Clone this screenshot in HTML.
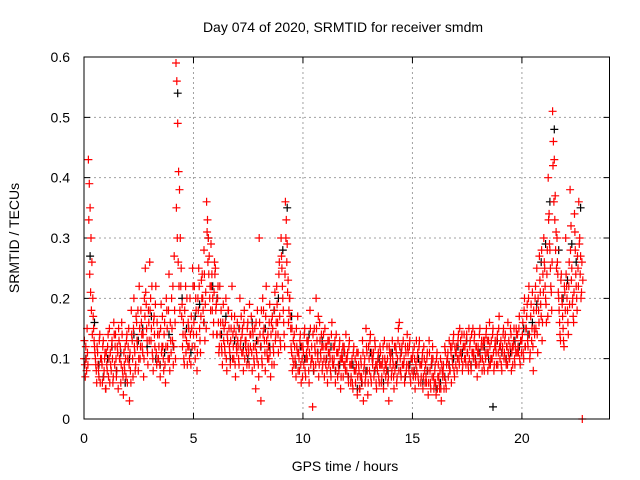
<!DOCTYPE html>
<html><head><meta charset="utf-8"><style>
body{margin:0;background:#fff}
svg{display:block;font-family:"Liberation Sans",sans-serif}
</style></head><body>
<svg id="chart" width="640" height="480">
<text x="343" y="32" text-anchor="middle" font-size="14">Day 074 of 2020, SRMTID for receiver smdm</text>
<text x="345" y="471" text-anchor="middle" font-size="14">GPS time / hours</text>
<text transform="translate(19,238) rotate(-90)" text-anchor="middle" font-size="14">SRMTID / TECUs</text>
<g id="grid"></g>
<g id="ticks"></g>
<g id="black"></g>
<g id="red"></g>
<rect x="84" y="57" width="525.5" height="362" fill="none" stroke="#000" stroke-width="1"/>
</svg>
<script>
const xTicks=[0,5,10,15,20];
const yTicks=[0,0.1,0.2,0.3,0.4,0.5,0.6];
const yTickLabels=["0","0.1","0.2","0.3","0.4","0.5","0.6"];
const times=[0,0.2,0.4,0.6,0.8,1,1.2,1.4,1.6,1.8,2,2.2,2.4,2.6,2.8,3,3.2,3.4,3.6,3.8,4,4.2,4.4,4.6,4.8,5,5.2,5.4,5.6,5.8,6,6.2,6.4,6.6,6.8,7,7.2,7.4,7.6,7.8,8,8.2,8.4,8.6,8.8,9,9.2,9.4,9.6,9.8,10,10.2,10.4,10.6,10.8,11,11.2,11.4,11.6,11.8,12,12.2,12.4,12.6,12.8,13,13.2,13.4,13.6,13.8,14,14.2,14.4,14.6,14.8,15,15.2,15.4,15.6,15.8,16,16.2,16.4,16.6,16.8,17,17.2,17.4,17.6,17.8,18,18.2,18.4,18.6,18.8,19,19.2,19.4,19.6,19.8,20,20.2,20.4,20.6,20.8,21,21.2,21.4,21.6,21.8,22,22.2,22.4,22.6];
const redVals=[
[.10,.09,.12,.08,.11],[.43,.39,.35,.30,.26],[.20,.15,.12,.10,.08],[.12,.09,.07,.14,.10],[.10,.06,.13,.08,.11],
[.05,.09,.12,.07,.15],[.11,.08,.13,.06,.16],[.09,.14,.07,.12,.05],[.13,.10,.06,.16,.08],[.04,.09,.12,.07,.14],
[.10,.15,.03,.08,.18],[.13,.07,.20,.11,.09],[.16,.12,.08,.22,.10],[.18,.14,.11,.07,.20],[.25,.19,.13,.09,.16],
[.26,.20,.15,.11,.08],[.17,.12,.22,.09,.14],[.10,.14,.07,.19,.12],[.12,.08,.16,.06,.20],[.15,.10,.24,.08,.13],
[.20,.13,.09,.27,.16],[.59,.56,.49,.41,.38],[.30,.25,.19,.14,.10],[.18,.22,.13,.09,.16],[.12,.20,.09,.15,.25],
[.14,.22,.10,.18,.08],[.20,.25,.15,.11,.23],[.24,.18,.28,.13,.21],[.36,.33,.30,.27,.22],[.29,.24,.20,.16,.26],
[.25,.19,.14,.22,.11],[.22,.16,.12,.09,.19],[.15,.11,.20,.08,.13],[.18,.12,.09,.15,.22],[.14,.10,.17,.07,.12],
[.16,.12,.09,.20,.13],[.11,.15,.08,.18,.13],[.13,.09,.16,.11,.19],[.12,.17,.08,.14,.10],[.15,.05,.11,.18,.09],
[.30,.14,.03,.10,.20],[.18,.13,.08,.22,.11],[.14,.10,.19,.07,.16],[.17,.12,.09,.21,.14],[.22,.16,.11,.26,.13],
[.30,.25,.20,.16,.12],[.36,.33,.29,.23,.18],[.20,.15,.11,.08,.13],[.14,.10,.07,.12,.17],[.11,.08,.14,.06,.10],
[.12,.09,.15,.07,.11],[.10,.13,.06,.18,.09],[.12,.02,.09,.15,.11],[.20,.13,.10,.07,.16],[.11,.14,.08,.12,.10],
[.15,.09,.12,.06,.11],[.13,.10,.07,.16,.09],[.09,.12,.06,.14,.11],[.11,.08,.13,.05,.10],[.10,.07,.12,.09,.14],
[.08,.11,.06,.13,.09],[.07,.10,.05,.12,.08],[.06,.09,.04,.11,.08],[.05,.10,.07,.13,.03],[.09,.06,.15,.11,.04],
[.12,.08,.14,.06,.10],[.10,.07,.13,.09,.05],[.08,.11,.06,.12,.09],[.07,.10,.05,.13,.09],[.09,.12,.06,.03,.11],
[.10,.07,.13,.09,.05],[.08,.12,.06,.10,.15],[.16,.10,.07,.12,.09],[.09,.06,.12,.08,.14],[.11,.08,.13,.06,.10],
[.10,.07,.12,.05,.09],[.08,.11,.06,.13,.09],[.07,.10,.05,.12,.08],[.09,.06,.11,.04,.13],[.08,.05,.10,.12,.07],
[.06,.09,.04,.11,.07],[.07,.05,.10,.03,.08],[.08,.05,.12,.06,.09],[.10,.07,.13,.08,.11],[.12,.09,.14,.07,.11],
[.11,.08,.13,.10,.15],[.13,.10,.08,.12,.14],[.12,.09,.14,.11,.08],[.10,.13,.08,.11,.15],[.11,.14,.09,.12,.07],
[.12,.09,.15,.10,.13],[.10,.13,.08,.11,.14],[.11,.08,.13,.16,.09],[.13,.10,.15,.08,.12],[.12,.09,.14,.11,.17],
[.10,.13,.08,.12,.15],[.11,.14,.09,.12,.16],[.13,.10,.15,.08,.12],[.12,.15,.09,.11,.14],[.14,.11,.17,.09,.13],
[.13,.16,.10,.20,.12],[.15,.19,.12,.22,.10],[.17,.13,.21,.08,.15],[.20,.15,.25,.11,.18],[.27,.21,.17,.13,.24],
[.30,.25,.20,.16,.28],[.40,.34,.28,.22,.18],[.51,.46,.43,.37,.31],[.30,.24,.20,.16,.13],[.24,.19,.15,.12,.21],
[.30,.22,.18,.14,.26],[.38,.32,.25,.20,.16],[.34,.28,.22,.18,.25],[.36,.30,.27,.21,.00]];
const redVals2=[
[.13,.07,.10,.15,.09],[.33,.24,.21,.18,.14],[.17,.13,.11,.09,.06],[.11,.08,.13,.06,.10],[.09,.12,.07,.10,.05],
[.11,.08,.14,.10,.06],[.09,.12,.10,.07,.14],[.12,.10,.08,.11,.15],[.10,.12,.09,.14,.07],[.11,.08,.10,.13,.06],
[.12,.09,.11,.06,.14],[.10,.15,.12,.08,.17],[.13,.18,.10,.15,.12],[.16,.12,.14,.10,.17],[.21,.15,.11,.18,.13],
[.18,.13,.22,.10,.16],[.14,.19,.11,.16,.10],[.12,.09,.15,.11,.17],[.10,.14,.09,.12,.18],[.12,.18,.10,.16,.11],
[.15,.22,.12,.18,.10],[.35,.30,.26,.22,.18],[.22,.17,.12,.16,.09],[.14,.11,.20,.12,.15],[.10,.14,.17,.12,.22],
[.16,.12,.20,.14,.11],[.18,.22,.13,.17,.20],[.20,.16,.24,.19,.15],[.31,.26,.24,.20,.18],[.22,.18,.14,.21,.24],
[.18,.14,.20,.16,.12],[.14,.18,.11,.16,.13],[.12,.16,.10,.14,.18],[.15,.11,.13,.17,.10],[.12,.15,.09,.14,.11],
[.13,.10,.15,.12,.17],[.14,.11,.16,.10,.12],[.11,.15,.12,.09,.14],[.14,.11,.15,.12,.09],[.12,.16,.10,.13,.07],
[.16,.12,.18,.09,.14],[.15,.11,.17,.13,.10],[.12,.16,.11,.14,.09],[.15,.11,.18,.13,.16],[.19,.14,.24,.17,.12],
[.27,.22,.18,.14,.24],[.30,.26,.21,.16,.20],[.17,.12,.15,.10,.09],[.12,.09,.15,.11,.08],[.10,.13,.09,.12,.07],
[.11,.14,.08,.10,.13],[.12,.08,.11,.15,.10],[.10,.14,.08,.12,.09],[.15,.11,.17,.09,.13],[.10,.12,.09,.14,.07],
[.12,.10,.08,.13,.09],[.11,.08,.14,.10,.12],[.10,.13,.08,.11,.07],[.09,.12,.10,.07,.11],[.12,.09,.11,.08,.10],
[.10,.07,.12,.09,.06],[.09,.06,.11,.08,.10],[.08,.11,.07,.09,.05],[.07,.09,.06,.11,.08],[.10,.07,.12,.08,.06],
[.10,.13,.07,.11,.09],[.11,.08,.12,.06,.09],[.10,.07,.09,.11,.06],[.09,.12,.08,.10,.07],[.08,.10,.07,.12,.09],
[.11,.08,.10,.07,.12],[.09,.11,.07,.13,.08],[.12,.08,.11,.09,.13],[.10,.07,.11,.09,.12],[.09,.12,.07,.10,.08],
[.11,.08,.10,.07,.13],[.10,.07,.12,.09,.06],[.09,.11,.07,.10,.06],[.07,.10,.08,.06,.11],[.06,.09,.07,.10,.05],
[.08,.06,.10,.05,.09],[.06,.08,.05,.09,.07],[.09,.07,.11,.05,.10],[.11,.09,.08,.12,.06],[.10,.13,.08,.12,.09],
[.12,.10,.14,.09,.11],[.11,.14,.09,.12,.10],[.10,.13,.11,.09,.15],[.12,.09,.14,.11,.10],[.13,.10,.12,.09,.11],
[.11,.14,.10,.12,.08],[.12,.09,.13,.10,.15],[.13,.11,.09,.12,.10],[.10,.14,.11,.09,.13],[.11,.13,.09,.15,.12],
[.12,.09,.11,.14,.10],[.13,.10,.12,.09,.11],[.10,.12,.14,.11,.09],[.13,.10,.12,.15,.11],[.12,.15,.10,.13,.11],
[.14,.11,.18,.12,.15],[.17,.13,.20,.14,.11],[.19,.15,.12,.18,.14],[.22,.18,.14,.20,.16],[.23,.19,.28,.16,.21],
[.26,.22,.19,.24,.17],[.33,.29,.25,.21,.26],[.42,.36,.33,.28,.25],[.26,.21,.18,.14,.23],[.20,.17,.13,.22,.18],
[.24,.20,.16,.22,.19],[.28,.23,.19,.17,.21],[.31,.24,.20,.27,.22],[.29,.24,.20,.26,.23]];
const blackVals=[.10,.27,.16,.09,.07,.10,.12,.08,.11,.06,.10,.14,.13,.15,.12,.17,.10,.09,.11,.14,.12,.54,.20,.15,.11,.17,.19,.16,.30,.22,.20,.14,.17,.10,.13,.15,.12,.10,.16,.13,.12,.15,.12,.18,.20,.28,.35,.17,.09,.12,.10,.14,.08,.11,.13,.10,.12,.08,.09,.11,.07,.09,.05,.06,.08,.11,.08,.10,.06,.08,.11,.09,.11,.07,.09,.08,.10,.06,.08,.09,.05,.06,.07,.09,.10,.12,.11,.13,.09,.10,.11,.12,.10,.02,.13,.11,.10,.11,.13,.12,.15,.14,.16,.19,.26,.29,.36,.48,.28,.20,.23,.29,.26,.35];

const X0=84,X1=609.5,Y0=419,Y1=57;
const xs=t=>X0+(t/24)*(X1-X0);
const ys=v=>Y0-(v/0.6)*(Y0-Y1);
const NS="http://www.w3.org/2000/svg";
function mk(tag,attrs,parent){const e=document.createElementNS(NS,tag);for(const k in attrs)e.setAttribute(k,attrs[k]);parent.appendChild(e);return e;}
const grid=document.getElementById('grid'),ticks=document.getElementById('ticks');
xTicks.forEach(t=>{
  const x=xs(t);
  if(t>0){const g=mk('line',{x1:x,x2:x,y1:Y0,y2:Y1,stroke:'#a0a0a0','stroke-dasharray':'2,3'},grid);
  
  }
  const tk=mk('path',{d:`M${x},${Y0}v-6M${x},${Y1}v6`,stroke:'#000'},ticks);
  
  
  const l=mk('text',{x:x,y:443,'text-anchor':'middle','font-size':'14'},ticks);l.textContent=String(t);
  
  
});
yTicks.forEach((v,i)=>{
  const y=ys(v);
  if(i>0&&i<yTicks.length-1){const g=mk('line',{x1:X0,x2:X1,y1:y,y2:y,stroke:'#a0a0a0','stroke-dasharray':'2,3'},grid);
  
  }
  const tk=mk('path',{d:`M${X0},${y}h6M${X1},${y}h-6`,stroke:'#000'},ticks);
  
  
  const l=mk('text',{x:70,y:y+5,'text-anchor':'end','font-size':'14'},ticks);l.textContent=yTickLabels[i];
  
  
});
function plus(x,y){return `M${(x-4).toFixed(1)},${y.toFixed(1)}h8M${x.toFixed(1)},${(y-4).toFixed(1)}v8`;}
let db='';
times.forEach((t,i)=>{db+=plus(xs(t+0.08),ys(blackVals[i]));});
const bp=mk('path',{d:db,stroke:'#000',fill:'none','stroke-width':'1.2'},document.getElementById('black'));


let dr='';
times.forEach((t,i)=>{redVals[i].forEach((v,j)=>{dr+=plus(xs(t+j*0.04),ys(v));});});
times.forEach((t,i)=>{redVals2[i].forEach((v,j)=>{dr+=plus(xs(t+0.02+j*0.04),ys(v));});});
const rp=mk('path',{d:dr,stroke:'#ff0000',fill:'none','stroke-width':'1.2'},document.getElementById('red'));


</script>
</body></html>
